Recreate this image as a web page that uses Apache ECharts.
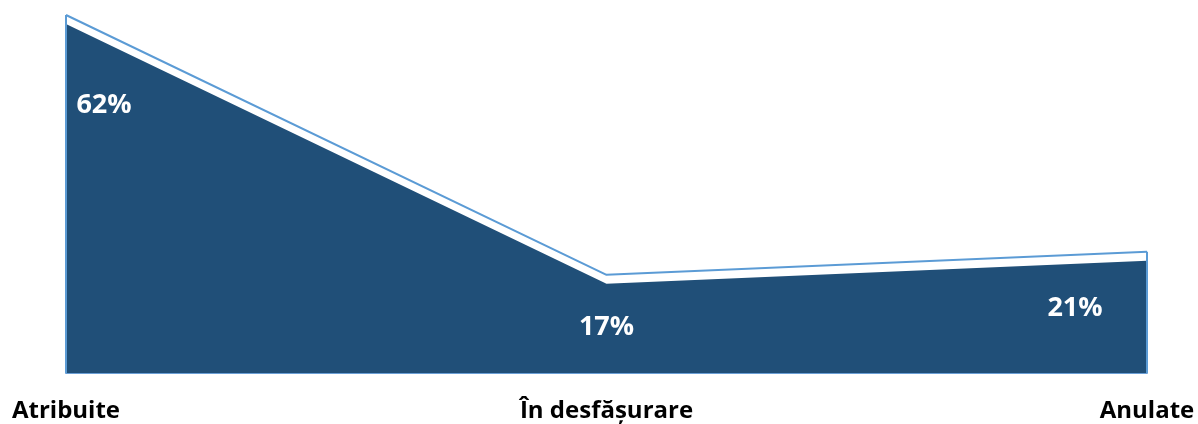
<!DOCTYPE html>
<html>
<head>
<meta charset="utf-8">
<script src="https://cdn.jsdelivr.net/npm/echarts@6/dist/echarts.min.js"></script>
<style>
  html, body { margin: 0; padding: 0; background: #fff; }
  #chart { width: 1198px; height: 424px; }
</style>
</head>
<body>
<div id="chart"></div>
<script>
// date grafic
const categories = ['Atribuite', 'În desfășurare', 'Anulate']
const shares = [62, 17, 21]

// stil
const fillColor = '#204f78'
const edgeColor = '#5b9bd5'
const font = 'Open Sans'
// deplasarea etichetelor de procent fata de punct
const labelOffsets = [[38, 81], [0, 43], [-72, 48]]

const yMax = Math.max(...shares)
const gridTop = 15
const gridBottom = 51
const plotH = 424 - gridTop - gridBottom
// umplutura e coborata cu ~9px sub contur
const shift = 9 * yMax / plotH

const chart = echarts.init(document.getElementById('chart'), null, { renderer: 'canvas' })

const fillData = shares.map((v, i) => ({
  value: v,
  label: {
    show: true,
    position: 'inside',
    offset: labelOffsets[i],
    formatter: '{c}%',
    color: '#fff',
    fontFamily: font,
    fontWeight: 'bold',
    fontSize: 27
  }
}))

const last = shares.length - 1

chart.setOption({
  animation: false,
  grid: { left: 66, right: 51, top: gridTop, bottom: gridBottom },
  xAxis: {
    type: 'category',
    data: categories,
    boundaryGap: false,
    axisTick: { show: false },
    axisLine: { show: true, lineStyle: { color: '#6a9fd6', width: 2 } },
    axisLabel: {
      color: '#000',
      fontFamily: font,
      fontWeight: 'bold',
      fontSize: 24,
      margin: 26
    }
  },
  yAxis: [
    {
      type: 'value', min: 0, max: yMax,
      axisLine: { show: false }, axisLabel: { show: false },
      axisTick: { show: false }, splitLine: { show: false }
    },
    {
      type: 'value', min: shift, max: yMax + shift,
      axisLine: { show: false }, axisLabel: { show: false },
      axisTick: { show: false }, splitLine: { show: false }
    }
  ],
  series: [
    {
      type: 'line',
      yAxisIndex: 1,
      data: fillData,
      symbol: 'circle',
      symbolSize: 0,
      showSymbol: true,
      lineStyle: { width: 0 },
      areaStyle: { color: fillColor, opacity: 1, origin: 'start' },
      z: 2
    },
    {
      type: 'line',
      yAxisIndex: 0,
      data: shares,
      symbol: 'none',
      clip: false,
      lineStyle: { color: edgeColor, width: 2 },
      z: 3,
      markLine: {
        silent: true,
        symbol: 'none',
        label: { show: false },
        lineStyle: { color: edgeColor, width: 2, type: 'solid' },
        data: [
          [{ coord: [categories[0], 0] }, { coord: [categories[0], shares[0]] }],
          [{ coord: [categories[last], 0] }, { coord: [categories[last], shares[last]] }]
        ]
      }
    }
  ]
})
</script>
</body>
</html>
